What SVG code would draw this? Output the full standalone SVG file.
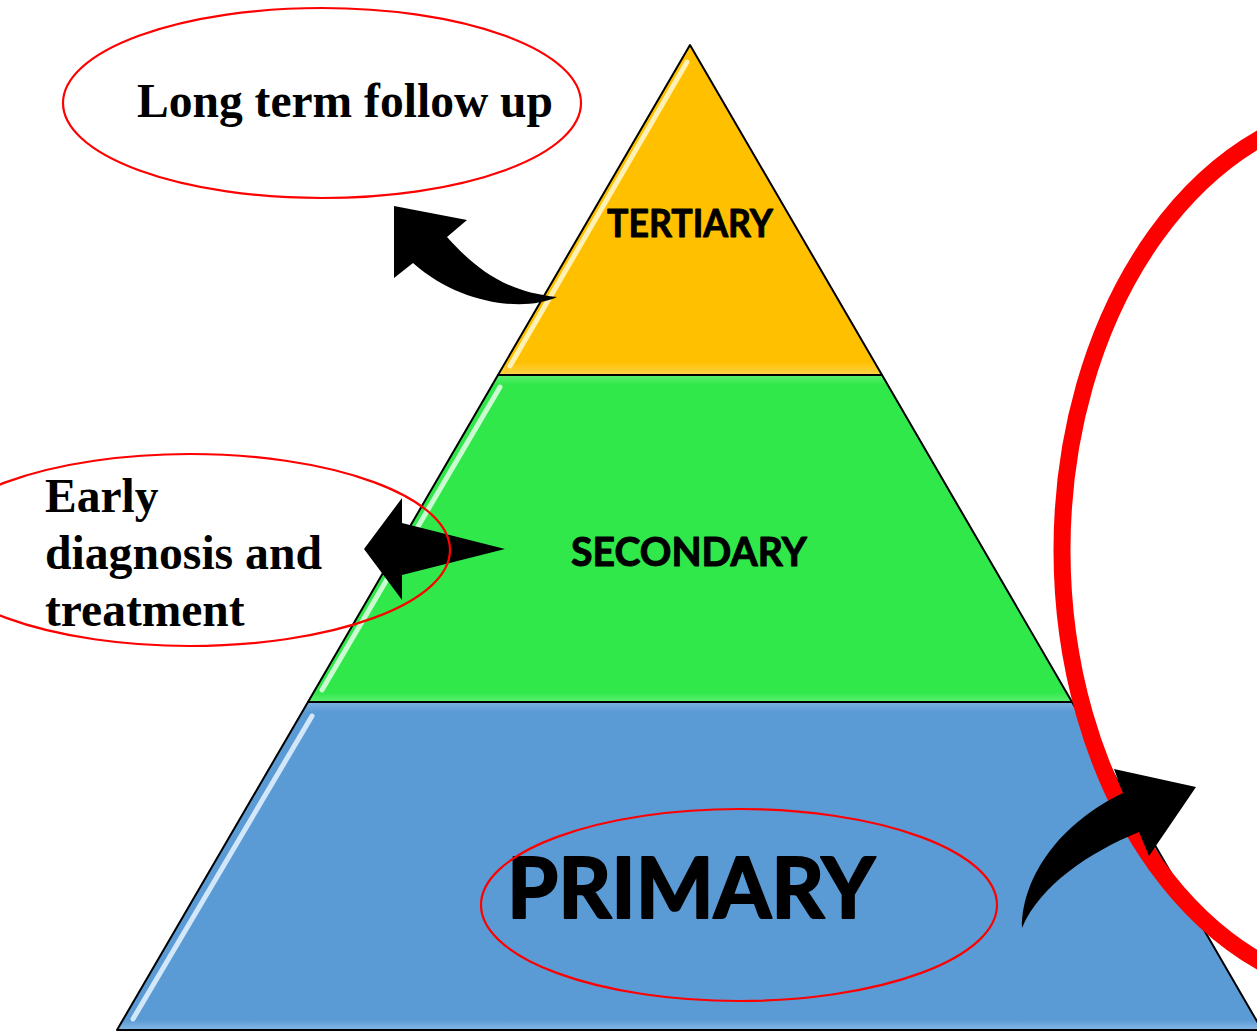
<svg xmlns="http://www.w3.org/2000/svg" width="1257" height="1032" viewBox="0 0 1257 1032">
<defs>
<style>
.layer{stroke:#000;stroke-width:2;stroke-linejoin:round}
.gloss{fill:none;stroke-width:5;stroke-linecap:round}
.lvl{font-family:Lato,"Open Sans","Liberation Sans",sans-serif;font-weight:bold;fill:#000;stroke:#000;stroke-linejoin:round;text-anchor:middle}
.note{font-family:"Liberation Serif","Times New Roman",serif;font-weight:bold;fill:#000;font-size:47.5px}
.oval{fill:none;stroke:#FF0000;stroke-width:2.2}
.arrow{fill:#000;stroke:none}
</style>
<linearGradient id="gTer" x1="0" y1="0" x2="0" y2="1">
<stop offset="0" stop-color="#FFC000"/><stop offset="0.96" stop-color="#FFC000"/><stop offset="1" stop-color="#FFD24A"/>
</linearGradient>
<linearGradient id="gSec" x1="0" y1="0" x2="0" y2="1">
<stop offset="0" stop-color="#5CF070"/><stop offset="0.03" stop-color="#30E84A"/><stop offset="0.97" stop-color="#30E84A"/><stop offset="1" stop-color="#5CF070"/>
</linearGradient>
<linearGradient id="gPri" x1="0" y1="0" x2="0" y2="1">
<stop offset="0" stop-color="#7DB2E2"/><stop offset="0.03" stop-color="#5B9BD5"/><stop offset="0.97" stop-color="#5B9BD5"/><stop offset="1" stop-color="#86B8E6"/>
</linearGradient>
</defs>
<rect width="1257" height="1032" fill="#FFFFFF"/>

<g id="primary">
<polygon class="layer" points="308,702 1072,702 1262,1030 117,1030" fill="url(#gPri)"/>
<line class="gloss" x1="312" y1="716" x2="133" y2="1019" stroke="#E8F4FF" stroke-opacity="0.85"/>
<text class="lvl" x="691" y="918" font-size="85" stroke-width="2.2" textLength="368" lengthAdjust="spacingAndGlyphs">PRIMARY</text>
</g>

<g id="secondary">
<polygon class="layer" points="498,375 882,375 1072,702 308,702" fill="url(#gSec)"/>
<line class="gloss" x1="500" y1="387" x2="322" y2="690" stroke="#E6FFE9" stroke-opacity="0.85"/>
<text class="lvl" x="689" y="566" font-size="40" stroke-width="1" textLength="236" lengthAdjust="spacingAndGlyphs">SECONDARY</text>
</g>

<g id="tertiary">
<polygon class="layer" points="690,45 882,375 498,375" fill="url(#gTer)"/>
<line class="gloss" x1="687" y1="62" x2="510" y2="366" stroke="#FFF6C8" stroke-opacity="0.9"/>
<text class="lvl" x="690" y="237" font-size="37.5" stroke-width="0.9" textLength="166" lengthAdjust="spacingAndGlyphs">TERTIARY</text>
</g>

<g id="ring">
<ellipse cx="1382" cy="550" rx="320" ry="445" fill="none" stroke="#FF0000" stroke-width="17"/>
</g>

<g id="long-term-follow-up">
<ellipse class="oval" cx="322" cy="103" rx="259" ry="95"/>
<text class="note" x="137" y="117" textLength="416" lengthAdjust="spacingAndGlyphs">Long term follow up</text>
</g>

<g id="primary-oval">
<ellipse class="oval" cx="739" cy="905" rx="258" ry="96"/>
</g>

<g id="connectors">
<path class="arrow" d="M394,206 L467,220 L447,237 C475,268 505,292 557,297 C525,312 460,305 413,263 L394,278 Z"/>
<polygon class="arrow" points="364,549 402,498 402,523 505,549 402,575 402,600"/>
<path class="arrow" d="M1196,787 L1149,856 L1139,832 C1090,852 1040,885 1022,928 C1022,875 1062,822 1123,793 L1114,769 Z"/>
</g>

<g id="early-diagnosis">
<ellipse class="oval" cx="190" cy="550" rx="260" ry="96"/>
<text class="note" x="45" y="512">Early</text>
<text class="note" x="45" y="569" textLength="277" lengthAdjust="spacingAndGlyphs">diagnosis and</text>
<text class="note" x="45" y="626">treatment</text>
</g>
</svg>
